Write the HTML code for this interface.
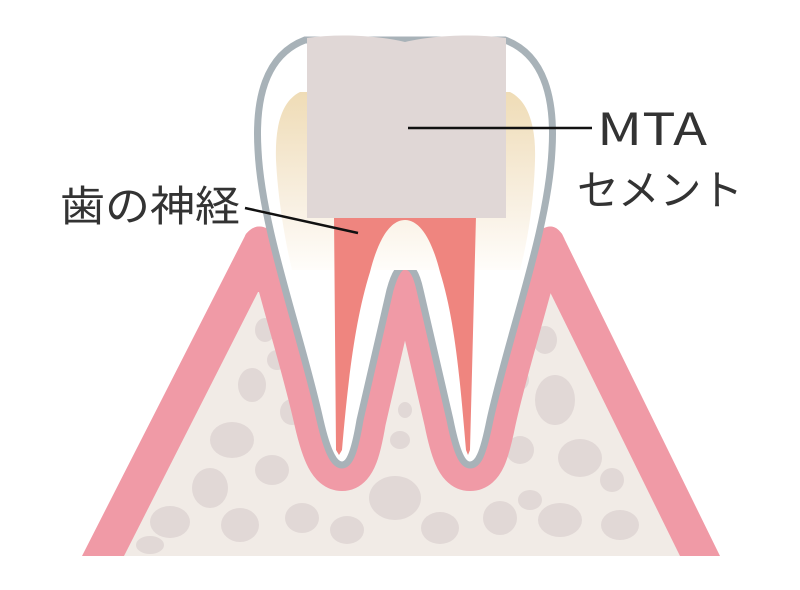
<!DOCTYPE html>
<html><head><meta charset="utf-8"><style>
html,body{margin:0;padding:0;background:#fff;width:800px;height:590px;overflow:hidden}
svg{display:block}
text{font-family:"Noto Sans CJK JP","Liberation Sans",sans-serif;fill:#333}
</style></head><body>
<svg width="800" height="590" viewBox="0 0 800 590" xmlns="http://www.w3.org/2000/svg">
<defs>
<clipPath id="gum"><path d="M82,556 L246,234 Q258,220 272,232 L540,232 Q552,220 562,234 L720,556 Z"/></clipPath>
<linearGradient id="dent" x1="0" y1="0" x2="0" y2="1">
<stop offset="0" stop-color="#efdcb6"/><stop offset="0.6" stop-color="#f8efe0"/><stop offset="1" stop-color="#fffdfa"/>
</linearGradient>
</defs>
<path d="M82,556 L246,234 Q258,220 272,232 L300,300 L510,300 L538,232 Q552,220 562,234 L720,556 Z" fill="#f09aa6"/>
<path d="M124,556 L258,292 L550,292 L680,556 Z" fill="#f1ebe6"/>
<g fill="#e1d8d6">
<ellipse cx="170" cy="522" rx="20" ry="16"/><ellipse cx="210" cy="488" rx="18" ry="20"/><ellipse cx="232" cy="440" rx="22" ry="18"/>
<ellipse cx="252" cy="385" rx="14" ry="17"/><ellipse cx="265" cy="330" rx="10" ry="12"/><ellipse cx="272" cy="470" rx="17" ry="15"/>
<ellipse cx="240" cy="525" rx="19" ry="17"/><ellipse cx="302" cy="518" rx="17" ry="15"/><ellipse cx="292" cy="412" rx="12" ry="13"/>
<ellipse cx="277" cy="360" rx="10" ry="10"/><ellipse cx="395" cy="498" rx="26" ry="22"/><ellipse cx="347" cy="530" rx="17" ry="14"/>
<ellipse cx="440" cy="528" rx="19" ry="16"/><ellipse cx="500" cy="518" rx="17" ry="17"/><ellipse cx="560" cy="520" rx="22" ry="17"/>
<ellipse cx="620" cy="525" rx="19" ry="15"/><ellipse cx="580" cy="458" rx="22" ry="19"/><ellipse cx="555" cy="400" rx="20" ry="25"/>
<ellipse cx="545" cy="340" rx="12" ry="14"/><ellipse cx="520" cy="450" rx="14" ry="14"/><ellipse cx="612" cy="480" rx="12" ry="12"/>
<ellipse cx="400" cy="440" rx="10" ry="9"/><ellipse cx="405" cy="410" rx="7" ry="8"/><ellipse cx="150" cy="545" rx="14" ry="9"/>
<ellipse cx="520" cy="380" rx="9" ry="10"/><ellipse cx="530" cy="500" rx="12" ry="10"/>
</g>
<g clip-path="url(#gum)">
<path d="M305,40 C265,55 255,100 258,150 C262,230 300,330 320,420 C328,455 335,465 342,465 C350,465 355,450 360,420 L390,290 C395,272 400,266 405,266 C411,266 416,272 420,290 L450,420 C456,450 462,465 470,465 C478,465 483,455 490,420 C510,330 548,230 552,150 C555,100 545,55 505,40 Z" fill="none" stroke="#f09aa6" stroke-width="52" stroke-linejoin="round"/>
</g>
<path d="M305,40 C265,55 255,100 258,150 C262,230 300,330 320,420 C328,455 335,465 342,465 C350,465 355,450 360,420 L390,290 C395,272 400,266 405,266 C411,266 416,272 420,290 L450,420 C456,450 462,465 470,465 C478,465 483,455 490,420 C510,330 548,230 552,150 C555,100 545,55 505,40 Z" fill="#fff" stroke="#a8b2b8" stroke-width="7"/>
<path d="M300,92 C280,102 275,130 276,160 C278,200 285,240 292,270 L520,270 C528,240 534,200 535,160 C536,130 530,102 510,92 Z" fill="url(#dent)"/>
<path d="M334,216 L476,216 L470,450 L468,455 L466,450 C460,380 455,320 440,272 C432,240 420,220 405,220 C390,220 378,240 370,272 C355,320 348,380 342,450 L339,455 L336,450 Z" fill="#ef857f"/>
<path d="M307,38 C340,33 380,36 405,42 C430,36 470,33 506,38 L506,218 L307,218 Z" fill="#e0d7d6"/>
<line x1="408" y1="128" x2="592" y2="128" stroke="#111" stroke-width="2.5"/>
<line x1="245" y1="208" x2="358" y2="233" stroke="#111" stroke-width="2.5"/>
<text x="597" y="145" font-size="44" font-family="Liberation Sans, sans-serif" textLength="110" lengthAdjust="spacingAndGlyphs">MTA</text>
<text x="577" y="205" font-size="42" textLength="166" lengthAdjust="spacingAndGlyphs">セメント</text>
<text x="60" y="221" font-size="42" textLength="180" lengthAdjust="spacingAndGlyphs">歯の神経</text>
</svg>
</body></html>
